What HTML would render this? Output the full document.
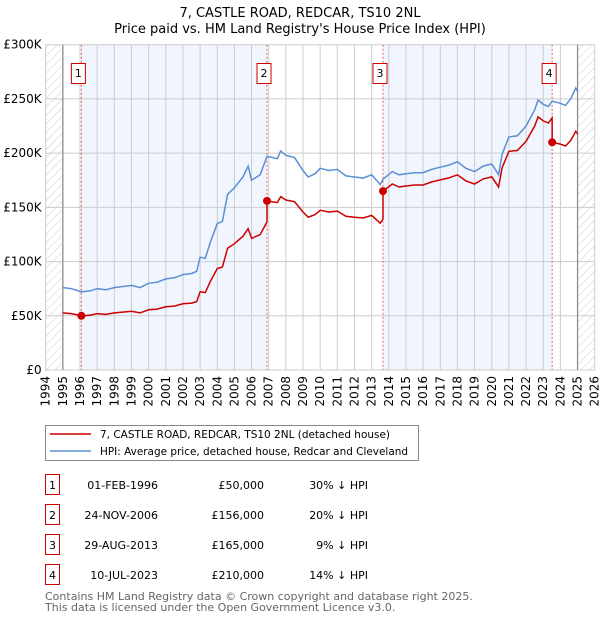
<!DOCTYPE html>
<html><head><meta charset="utf-8"><style>
body{margin:0;background:#fff;font-family:"DejaVu Sans","Liberation Sans",sans-serif}
svg{display:block}
text{font-family:"DejaVu Sans","Liberation Sans",sans-serif}
</style></head><body>
<svg id="c" width="600" height="620"></svg>
<script>
const hpiYears=[1995,1995.5,1996.1,1996.6,1997,1997.5,1998,1998.5,1999,1999.5,2000,2000.5,2001,2001.5,2002,2002.5,2002.8,2003,2003.3,2003.6,2004,2004.3,2004.6,2005,2005.5,2005.8,2006,2006.5,2006.9,2007.2,2007.5,2007.7,2008,2008.5,2009,2009.3,2009.7,2010,2010.5,2011,2011.5,2012,2012.5,2013,2013.5,2013.66,2014.2,2014.6,2015,2015.5,2016,2016.5,2017,2017.5,2018,2018.5,2019,2019.5,2020,2020.4,2020.6,2021,2021.5,2022,2022.5,2022.7,2023,2023.3,2023.52,2024,2024.3,2024.6,2024.9,2025];
const hpiValues=[76,75,72,73,75,74,76,77,78,76,80,81,84,85,88,89,91,104,103,118,135,137,162,168,178,188,175,180,197,196,195,202,198,196,184,178,181,186,184,185,179,178,177,180,171,176,183,180,181,182,182,185,187,189,192,186,183,188,190,180,199,215,216,225,240,249,245,243,248,246,244,250,260,257];
const saleYears=[1996.08,2006.9,2013.66,2023.52];
const salePrices=[50,156,165,210];
const saleLabels=["1","2","3","4"];
const yTicks=[0,50,100,150,200,250,300];
const xTicks=[1994,1995,1996,1997,1998,1999,2000,2001,2002,2003,2004,2005,2006,2007,2008,2009,2010,2011,2012,2013,2014,2015,2016,2017,2018,2019,2020,2021,2022,2023,2024,2025,2026];
const tableDates=["01-FEB-1996","24-NOV-2006","29-AUG-2013","10-JUL-2023"];
const tablePrices=["£50,000","£156,000","£165,000","£210,000"];
const tableHpi=["30% ↓ HPI","20% ↓ HPI","9% ↓ HPI","14% ↓ HPI"];

const NS="http://www.w3.org/2000/svg",svg=document.getElementById('c');
const L=45.7,R=594.7,T=44.7,B=370;
const X=y=>L+(y-1994)/32*(R-L), Y=v=>B-v/300*(B-T);
function el(t,a,p){const e=document.createElementNS(NS,t);for(const k in a)e.setAttribute(k,a[k]);(p||svg).appendChild(e);return e;}
function hpiAt(y){for(let i=0;i<hpiYears.length-1;i++){if(y<=hpiYears[i+1]){const f=(y-hpiYears[i])/(hpiYears[i+1]-hpiYears[i]);return hpiValues[i]+f*(hpiValues[i+1]-hpiValues[i]);}}return hpiValues[hpiValues.length-1];}

const defs=el('defs',{});
const pat=el('pattern',{id:'h',width:6,height:6,patternUnits:'userSpaceOnUse',patternTransform:'rotate(45)'},defs);
el('line',{x1:0,y1:0,x2:0,y2:6,stroke:'#ccc','stroke-width':1},pat);

let t=el('text',{x:300,y:17,'text-anchor':'middle','font-size':13,fill:'#000'});t.textContent='7, CASTLE ROAD, REDCAR, TS10 2NL';

t=el('text',{x:300,y:33,'text-anchor':'middle','font-size':13,fill:'#000'});t.textContent="Price paid vs. HM Land Registry's House Price Index (HPI)";


[[0,1],[2,3]].forEach(([a,b])=>{const r=el('rect',{x:X(saleYears[a]),y:T,width:X(saleYears[b])-X(saleYears[a]),height:B-T,fill:'#eef3fc',opacity:0.8});
});
el('rect',{x:X(1994),y:T,width:X(1995)-X(1994),height:B-T,fill:'url(#h)'});
el('rect',{x:X(2025),y:T,width:X(2026)-X(2025),height:B-T,fill:'url(#h)'});

yTicks.forEach(v=>{el('line',{x1:L,x2:R,y1:Y(v),y2:Y(v),stroke:'#ccc','stroke-width':1});
const tx=el('text',{x:L-4,y:Y(v)+4,'text-anchor':'end','font-size':12,fill:'#000'});tx.textContent=v?'£'+v+'K':'£0';
});
xTicks.forEach(y=>{el('line',{x1:X(y),x2:X(y),y1:T,y2:B,stroke:'#ccc','stroke-width':1});
const tx=el('text',{x:0,y:0,'text-anchor':'end','font-size':12,fill:'#000',transform:`translate(${X(y)+4},${B+6}) rotate(-90)`});tx.textContent=y;
});
el('line',{x1:X(1995),x2:X(1995),y1:T,y2:B,stroke:'#888','stroke-width':1.2});
el('line',{x1:X(2025),x2:X(2025),y1:T,y2:B,stroke:'#888','stroke-width':1.2});

saleYears.forEach((s,i)=>{const l=el('line',{x1:X(s),x2:X(s),y1:T,y2:B,stroke:'#e06060','stroke-width':1,'stroke-dasharray':'2,2'});

const g=el('g',{});
el('rect',{x:X(s)-10,y:63.5,width:14,height:20,fill:'#fff',stroke:'#c00','stroke-width':1},g);
const tx=el('text',{x:X(s)-3,y:77,'text-anchor':'middle','font-size':11,fill:'#000'},g);tx.textContent=saleLabels[i];});

let d='';hpiYears.forEach((y,i)=>{d+=(i?'L':'M')+X(y).toFixed(1)+','+Y(hpiValues[i]).toFixed(1);});
let p=el('path',{d,fill:'none',stroke:'#5b8fd6','stroke-width':1.5});


function ratioAt(y){let k=0;for(let i=0;i<saleYears.length;i++)if(y>=saleYears[i])k=i;return salePrices[k]/hpiAt(saleYears[k]);}
const pts=[];hpiYears.forEach((y,i)=>pts.push([y,hpiValues[i]*ratioAt(y)]));
saleYears.forEach((s,i)=>{if(i>0)pts.push([s-0.001,hpiAt(s)*ratioAt(s-0.01)]);pts.push([s,salePrices[i]]);});
pts.sort((a,b)=>a[0]-b[0]);
d='';pts.forEach((q,i)=>{d+=(i?'L':'M')+X(q[0]).toFixed(1)+','+Y(q[1]).toFixed(1);});
p=el('path',{d,fill:'none',stroke:'#cc0000','stroke-width':1.5});

saleYears.forEach((s,i)=>{const c=el('circle',{cx:X(s),cy:Y(salePrices[i]),r:4,fill:'#cc0000'});
});

const lg=el('g',{});
el('rect',{x:45.5,y:425.5,width:373,height:35,fill:'#fff',stroke:'#888','stroke-width':1},lg);
el('line',{x1:50,x2:91,y1:434,y2:434,stroke:'#cc0000','stroke-width':1.5},lg);
el('line',{x1:50,x2:91,y1:451,y2:451,stroke:'#5b8fd6','stroke-width':1.5},lg);
t=el('text',{x:100,y:438,'font-size':10.5,fill:'#000',textLength:290,lengthAdjust:'spacingAndGlyphs'},lg);t.textContent='7, CASTLE ROAD, REDCAR, TS10 2NL (detached house)';
t=el('text',{x:100,y:455,'font-size':10.5,fill:'#000',textLength:308,lengthAdjust:'spacingAndGlyphs'},lg);t.textContent='HPI: Average price, detached house, Redcar and Cleveland';

tableDates.forEach((dt,i)=>{const y=485+i*30;const g=el('g',{});
el('rect',{x:45.5,y:y-10.5,width:14,height:20,fill:'#fff',stroke:'#c00','stroke-width':1},g);
let tx=el('text',{x:52.5,y:y+4,'text-anchor':'middle','font-size':11},g);tx.textContent=saleLabels[i];
tx=el('text',{x:158,y:y+4,'text-anchor':'end','font-size':11},g);tx.textContent=dt;
tx=el('text',{x:264,y:y+4,'text-anchor':'end','font-size':11},g);tx.textContent=tablePrices[i];
tx=el('text',{x:368,y:y+4,'text-anchor':'end','font-size':11},g);tx.textContent=tableHpi[i];});
t=el('text',{x:45,y:600,'font-size':11,fill:'#666'});t.textContent='Contains HM Land Registry data © Crown copyright and database right 2025.';

t=el('text',{x:45,y:611,'font-size':11,fill:'#666'});t.textContent='This data is licensed under the Open Government Licence v3.0.';

</script>
</body></html>
